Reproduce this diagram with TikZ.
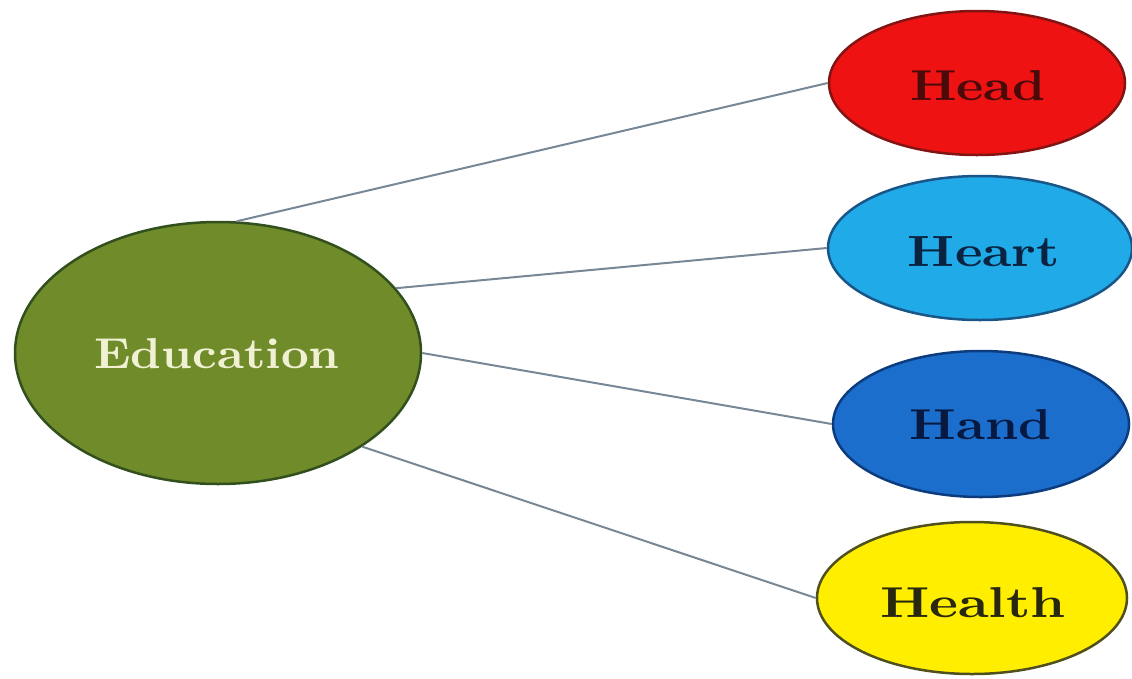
\documentclass[tikz,border=0pt]{standalone}
\usetikzlibrary{shapes.geometric}
\definecolor{edufill}{RGB}{112,140,42}
\definecolor{edudraw}{RGB}{50,80,30}
\definecolor{edutext}{RGB}{240,240,210}
\definecolor{headfill}{RGB}{238,18,18}
\definecolor{headdraw}{RGB}{130,20,20}
\definecolor{headtext}{RGB}{75,10,10}
\definecolor{heartfill}{RGB}{32,170,232}
\definecolor{heartdraw}{RGB}{25,85,135}
\definecolor{hearttext}{RGB}{10,35,65}
\definecolor{handfill}{RGB}{28,110,205}
\definecolor{handdraw}{RGB}{12,60,125}
\definecolor{handtext}{RGB}{8,25,65}
\definecolor{healthfill}{RGB}{255,238,0}
\definecolor{healthdraw}{RGB}{80,80,30}
\definecolor{healthtext}{RGB}{40,40,15}
\definecolor{linkc}{RGB}{120,135,150}
\newcommand{\lbl}[2]{\resizebox{#1}{30pt}{\bfseries #2}}
\tikzset{
  oval/.style={ellipse, inner sep=0pt, line width=2.5pt},
  link/.style={draw=linkc, line width=2pt}
}
\begin{document}
\begin{tikzpicture}[x=1pt,y=-1pt]
\useasboundingbox (0,0) rectangle (1132,678);
\node[oval, fill=edufill, draw=edudraw, minimum width=406pt, minimum height=262pt] (edu) at (218,353) {};
\node[text=edutext, anchor=base] (edut) at (217,368) {\lbl{245pt}{Education}};
\node[oval, fill=headfill, draw=headdraw, minimum width=296pt, minimum height=144pt] (head) at (977,83) {};
\node[text=headtext, anchor=base] (headt) at (978,100) {\lbl{136pt}{Head}};
\node[oval, fill=heartfill, draw=heartdraw, minimum width=304pt, minimum height=144pt] (heart) at (980,248) {};
\node[text=hearttext, anchor=base] (heartt) at (984,266) {\lbl{152pt}{Heart}};
\node[oval, fill=handfill, draw=handdraw, minimum width=296pt, minimum height=146pt] (hand) at (981,424) {};
\node[text=handtext, anchor=base] (handt) at (981,439) {\lbl{142pt}{Hand}};
\node[oval, fill=healthfill, draw=healthdraw, minimum width=310pt, minimum height=152pt] (health) at (972,598) {};
\node[text=healthtext, anchor=base] (healtht) at (973,617) {\lbl{186pt}{Health}};
\draw[link] (edu.82) -- (head.west);
\draw[link] (edu.20) -- (heart.west);
\draw[link] (edu.0) -- (hand.west);
\draw[link] (edu.-33) -- (health.west);
\end{tikzpicture}
\end{document}
